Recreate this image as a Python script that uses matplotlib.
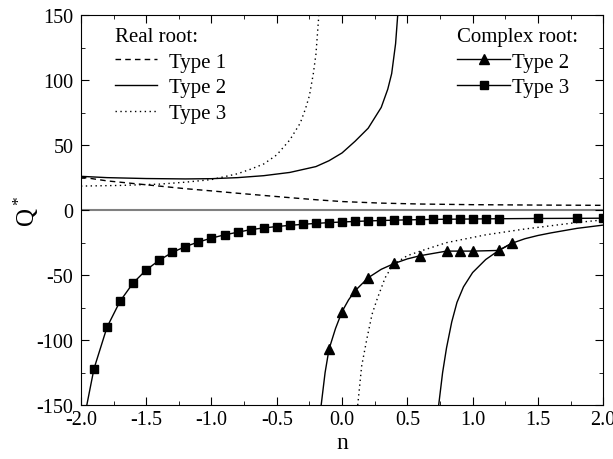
import matplotlib
matplotlib.use("Agg")
import matplotlib.pyplot as plt
from matplotlib.ticker import MultipleLocator, FormatStrFormatter

plt.rcParams['font.family'] = ['Liberation Serif', 'DejaVu Serif']
plt.rcParams['mathtext.fontset'] = 'custom'
plt.rcParams['mathtext.rm'] = 'Liberation Serif'
plt.rcParams['axes.unicode_minus'] = False

# real root, type 1 (dashed)
t1_n = [-2.0, -1.8, -1.6, -1.4, -1.2, -1.0, -0.8, -0.6, -0.4, -0.2, 0.0, 0.3, 0.6, 1.0, 1.5, 2.0]
t1_q = [25.5, 22.5, 20.5, 18.5, 16.5, 14.8, 13.0, 11.3, 9.6, 8.0, 6.6, 5.4, 4.7, 4.2, 3.9, 3.7]

# real root, type 2 (solid), upper and lower branch
t2u_n = [-2.0, -1.8, -1.5, -1.2, -1.0, -0.8, -0.6, -0.4, -0.2, -0.1, 0.0, 0.1, 0.2, 0.3, 0.35, 0.38, 0.41, 0.43]
t2u_q = [26.0, 25.0, 24.3, 24.0, 24.2, 25.0, 26.5, 29.0, 33.5, 38.0, 44.0, 53.0, 63.0, 79.0, 93.0, 105.0, 128.0, 155.0]
t2l_n = [0.74, 0.77, 0.80, 0.84, 0.88, 0.93, 1.0, 1.1, 1.2, 1.3, 1.4, 1.5, 1.6, 1.8, 2.0]
t2l_q = [-150, -125, -106, -86, -71, -59, -48, -38, -31, -25.5, -22, -19.5, -17.5, -14, -11.5]

# real root, type 3 (dotted), upper and lower branch
t3u_n = [-2.0, -1.7, -1.4, -1.2, -1.0, -0.8, -0.7, -0.6, -0.5, -0.4, -0.32, -0.28, -0.25, -0.22, -0.2, -0.18, -0.175]
t3u_q = [18.5, 19.0, 20.0, 21.5, 23.5, 28.0, 31.5, 35.5, 42.5, 54.0, 67.0, 78.0, 88.0, 105.0, 120.0, 147.0, 155.0]
t3l_n = [0.12, 0.15, 0.19, 0.23, 0.27, 0.33, 0.39, 0.5, 0.6, 0.8, 1.1, 1.4, 1.6, 1.8, 2.0]
t3l_q = [-150, -120, -99, -80, -68, -52, -42, -35, -31.5, -25, -19, -14.5, -12, -9.5, -7.5]

# complex root, type 2 (triangles)
c2_line_n = [-0.16, -0.13, -0.1, -0.05, 0.0, 0.05, 0.1, 0.2, 0.3, 0.4, 0.5, 0.6, 0.8, 0.9, 1.0, 1.2, 1.3]
c2_line_q = [-150, -125, -107, -91, -78, -69, -62, -52, -45.5, -41, -37.5, -35, -31.5, -31.5, -31.5, -31, -25.5]
c2_n = [-0.1, 0.0, 0.1, 0.2, 0.4, 0.6, 0.8, 0.9, 1.0, 1.2, 1.3]
c2_q = [-107, -78, -62, -52, -41, -35, -31.5, -31.5, -31.5, -31, -25.5]

# complex root, type 3 (squares)
c3_n = [-1.9, -1.8, -1.7, -1.6, -1.5, -1.4, -1.3, -1.2, -1.1, -1.0, -0.9, -0.8, -0.7, -0.6, -0.5,
        -0.4, -0.3, -0.2, -0.1, 0.0, 0.1, 0.2, 0.3, 0.4, 0.5, 0.6, 0.7, 0.8, 0.9, 1.0, 1.1, 1.2,
        1.5, 1.8, 2.0]
c3_q = [-122, -90, -70, -56, -46, -38.5, -32.5, -28, -24.5, -21.5, -19, -17, -15, -13.7, -12.6,
        -11.7, -10.9, -10.2, -9.6, -9.1, -8.7, -8.3, -8.0, -7.7, -7.5, -7.3, -7.1, -7.0, -6.9, -6.8, -6.7, -6.6,
        -6.4, -6.3, -6.2]
c3_start_n = [-1.955]
c3_start_q = [-150]

fig = plt.figure(figsize=(6.13, 4.6), dpi=100)
ax = fig.add_axes([0.132, 0.117, 0.852, 0.848])

ax.axhline(0, color='gray', lw=1.5, zorder=1)

l1, = ax.plot(t1_n, t1_q, color='k', lw=1.0, ls=(0, (4, 3)), label='Type 1')
l2, = ax.plot(t2u_n, t2u_q, color='k', lw=1.0, ls='-', label='Type 2')
ax.plot(t2l_n, t2l_q, color='k', lw=1.0, ls='-')
l3, = ax.plot(t3u_n, t3u_q, color='k', lw=1.0, ls=(0, (1, 2.5)), label='Type 3')
ax.plot(t3l_n, t3l_q, color='k', lw=1.0, ls=(0, (1, 2.5)))

ax.plot(c2_line_n, c2_line_q, color='k', lw=1.0)
ax.plot(c2_n, c2_q, ls='none', marker='^', color='k', ms=7)
ax.plot(c3_start_n + c3_n, c3_start_q + c3_q, color='k', lw=1.0)
ax.plot(c3_n, c3_q, ls='none', marker='s', color='k', ms=6)

ax.set_xlim(-2.0, 2.0)
ax.set_ylim(-150, 150)
ax.xaxis.set_major_locator(MultipleLocator(0.5))
ax.xaxis.set_minor_locator(MultipleLocator(0.25))
ax.yaxis.set_major_locator(MultipleLocator(50))
ax.yaxis.set_minor_locator(MultipleLocator(25))
ax.tick_params(which='both', direction='in', top=True, right=True, labelsize=14.5)
ax.tick_params(which='major', length=6)
ax.tick_params(which='minor', length=3)
ax.tick_params(axis='y', pad=5.5)
ax.xaxis.set_major_formatter(FormatStrFormatter('%.1f'))
ax.set_xlabel('n', fontsize=17, labelpad=2)
ax.set_ylabel('Q$^*$', fontsize=18, labelpad=-3)

leg1 = ax.legend(handles=[l1, l2, l3], title='Real root:', loc='upper left',
                 bbox_to_anchor=(0.065, 0.97), frameon=False, fontsize=15,
                 title_fontsize=15, handlelength=2.0, handletextpad=0.6,
                 labelspacing=0.3, borderpad=0, borderaxespad=0, alignment='left')
ax.add_artist(leg1)

h2, = ax.plot([], [], color='k', lw=1.0, marker='^', ms=7)
h3, = ax.plot([], [], color='k', lw=1.0, marker='s', ms=6)
leg2 = ax.legend(handles=[h2, h3], labels=['Type 2', 'Type 3'], title='Complex root:',
                 loc='upper right', bbox_to_anchor=(0.952, 0.97), frameon=False, fontsize=15,
                 title_fontsize=15, handlelength=2.55, handletextpad=0.1,
                 labelspacing=0.3, borderpad=0, borderaxespad=0, alignment='left')

fig.savefig('out.png', dpi=100)
